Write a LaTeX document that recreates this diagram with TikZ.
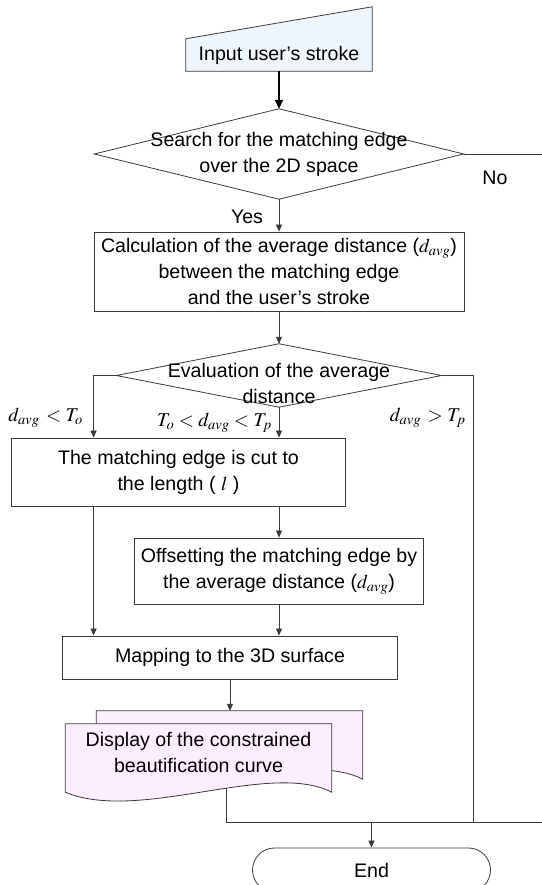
\documentclass[tikz,border=0pt]{standalone}
\usepackage{mathptmx}
\usepackage{fontspec}
\setmainfont{Liberation Sans}
\usetikzlibrary{positioning,arrows.meta,backgrounds}

\definecolor{inputblue}{HTML}{EEF6FC}
\definecolor{pagepink}{HTML}{FDEEFD}
\definecolor{wire}{HTML}{3A3A3A}

\tikzset{
	proc/.style={draw=wire,line width=0.8pt,rectangle},
	link/.style={draw=wire,line width=0.8pt},
	flow/.style={link,-{Triangle[length=7pt,width=6pt]}}
}

\begin{document}
\begin{tikzpicture}[x=1pt,y=1pt,on grid,
		every node/.style={font=\fontsize{19.6}{26}\selectfont,align=center,inner sep=0pt}]
	\useasboundingbox (0,0) rectangle (541,885);
	\node (input) at (279,830) [minimum width=186pt,minimum height=32pt] {Input user's stroke};
	\node (search) [below=99pt of input,minimum width=369pt,minimum height=90pt] {Search for the matching edge\\over the 2D space};
	\node[proc] (calc) [below=117.5pt of search,minimum width=370pt,minimum height=79pt] {Calculation of the average distance ($d_{avg}$)\\between the matching edge\\and the user's stroke};
	\node (eval) [below=104pt of calc,minimum width=325pt,minimum height=63pt,
		label={[name=evaltext,yshift=-8pt]center:{Evaluation of the average\\distance}}] {};
	\node[proc] (cut) [below left=96.5pt and 100.5pt of eval,minimum width=334pt,minimum height=68pt] {The matching edge is cut to\\the length ( $l$ )};
	\node[proc] (offset) [below=195.5pt of eval,minimum width=289pt,minimum height=66pt] {Offsetting the matching edge by\\the average distance ($d_{avg}$)};
	\node[proc] (map) [below left=86.5pt and 49pt of offset,minimum width=335pt,minimum height=43pt] {Mapping to the 3D surface};
	\node (doc) [below left=95pt and 31.5pt of map,minimum width=266pt,minimum height=57pt] {Display of the constrained\\beautification curve};
	\node[proc] (end) [below right=117.5pt and 173pt of doc,minimum width=238pt,minimum height=44pt,rounded corners=22pt] {End};

	\coordinate (rail) at ([xshift=32pt]eval.east);
	\coordinate (merge) at ([yshift=25pt]end.north);
	\coordinate (offpage) at (548,0);
	\coordinate (backtop) at ([yshift=13pt]doc.north);

	\begin{scope}[on background layer]
		\path[link,fill=inputblue] (input.south west) -- (input.north west) -- ([yshift=32pt]input.north east) -- (input.south east) -- cycle;
		\path[link] (search.north) -- (search.east) -- (search.south) -- (search.west) -- cycle;
		\path[link] (eval.north) -- (eval.east) -- (eval.south) -- (eval.west) -- cycle;
		\path[link,fill=pagepink] ([shift={(31pt,13pt)}]doc.north west) -- ([shift={(31pt,13pt)}]doc.north east) -- ([shift={(31pt,2pt)}]doc.south east)
			.. controls +(-62pt,32pt) and +(74pt,-31pt) .. ([shift={(31pt,2pt)}]doc.south west) -- cycle;
		\path[link,fill=pagepink] (doc.north west) -- (doc.north east) -- ([yshift=-11pt]doc.south east)
			.. controls +(-62pt,32pt) and +(74pt,-31pt) .. coordinate[pos=0.42] (docout) ([yshift=-11pt]doc.south west) -- cycle;
	\end{scope}

	\draw[flow,draw=black,line width=1.8pt,-{Triangle[length=9pt,width=8pt]}] (input.south) -- (search.north);
	\draw[link] (search.east) -- node[pos=0.37,yshift=-24pt] {No} (search.east -| offpage);
	\draw[flow] (search.south) -- node[pos=0.55,xshift=-32pt] {Yes} (calc.north);
	\draw[flow] (calc.south) -- (eval.north);
	\draw[flow] (eval.west) -| node[pos=0.84,xshift=-48pt] {$d_{avg}\,<T_o$} (cut.north -| calc.west);
	\draw[flow] (eval.south) -- node[pos=0.52,xshift=-64.5pt] {$T_o<d_{avg}<T_p$} (eval.south |- cut.north);
	\draw[link] (eval.east) -- (rail) -- node[pos=0.095,xshift=-46pt] {$d_{avg}\,>T_p$} (rail |- merge);
	\draw[flow] (cut.south -| offset.north) -- (offset.north);
	\draw[flow] (cut.south -| calc.west) -- (map.north -| calc.west);
	\draw[flow] (offset.south) -- (offset.south |- map.north);
	\draw[flow] (map.south) -- (map.south |- backtop);
	\draw[link] (docout) |- (merge) -- (merge -| offpage);
	\draw[flow] (merge) -- (end.north);
\end{tikzpicture}
\end{document}
